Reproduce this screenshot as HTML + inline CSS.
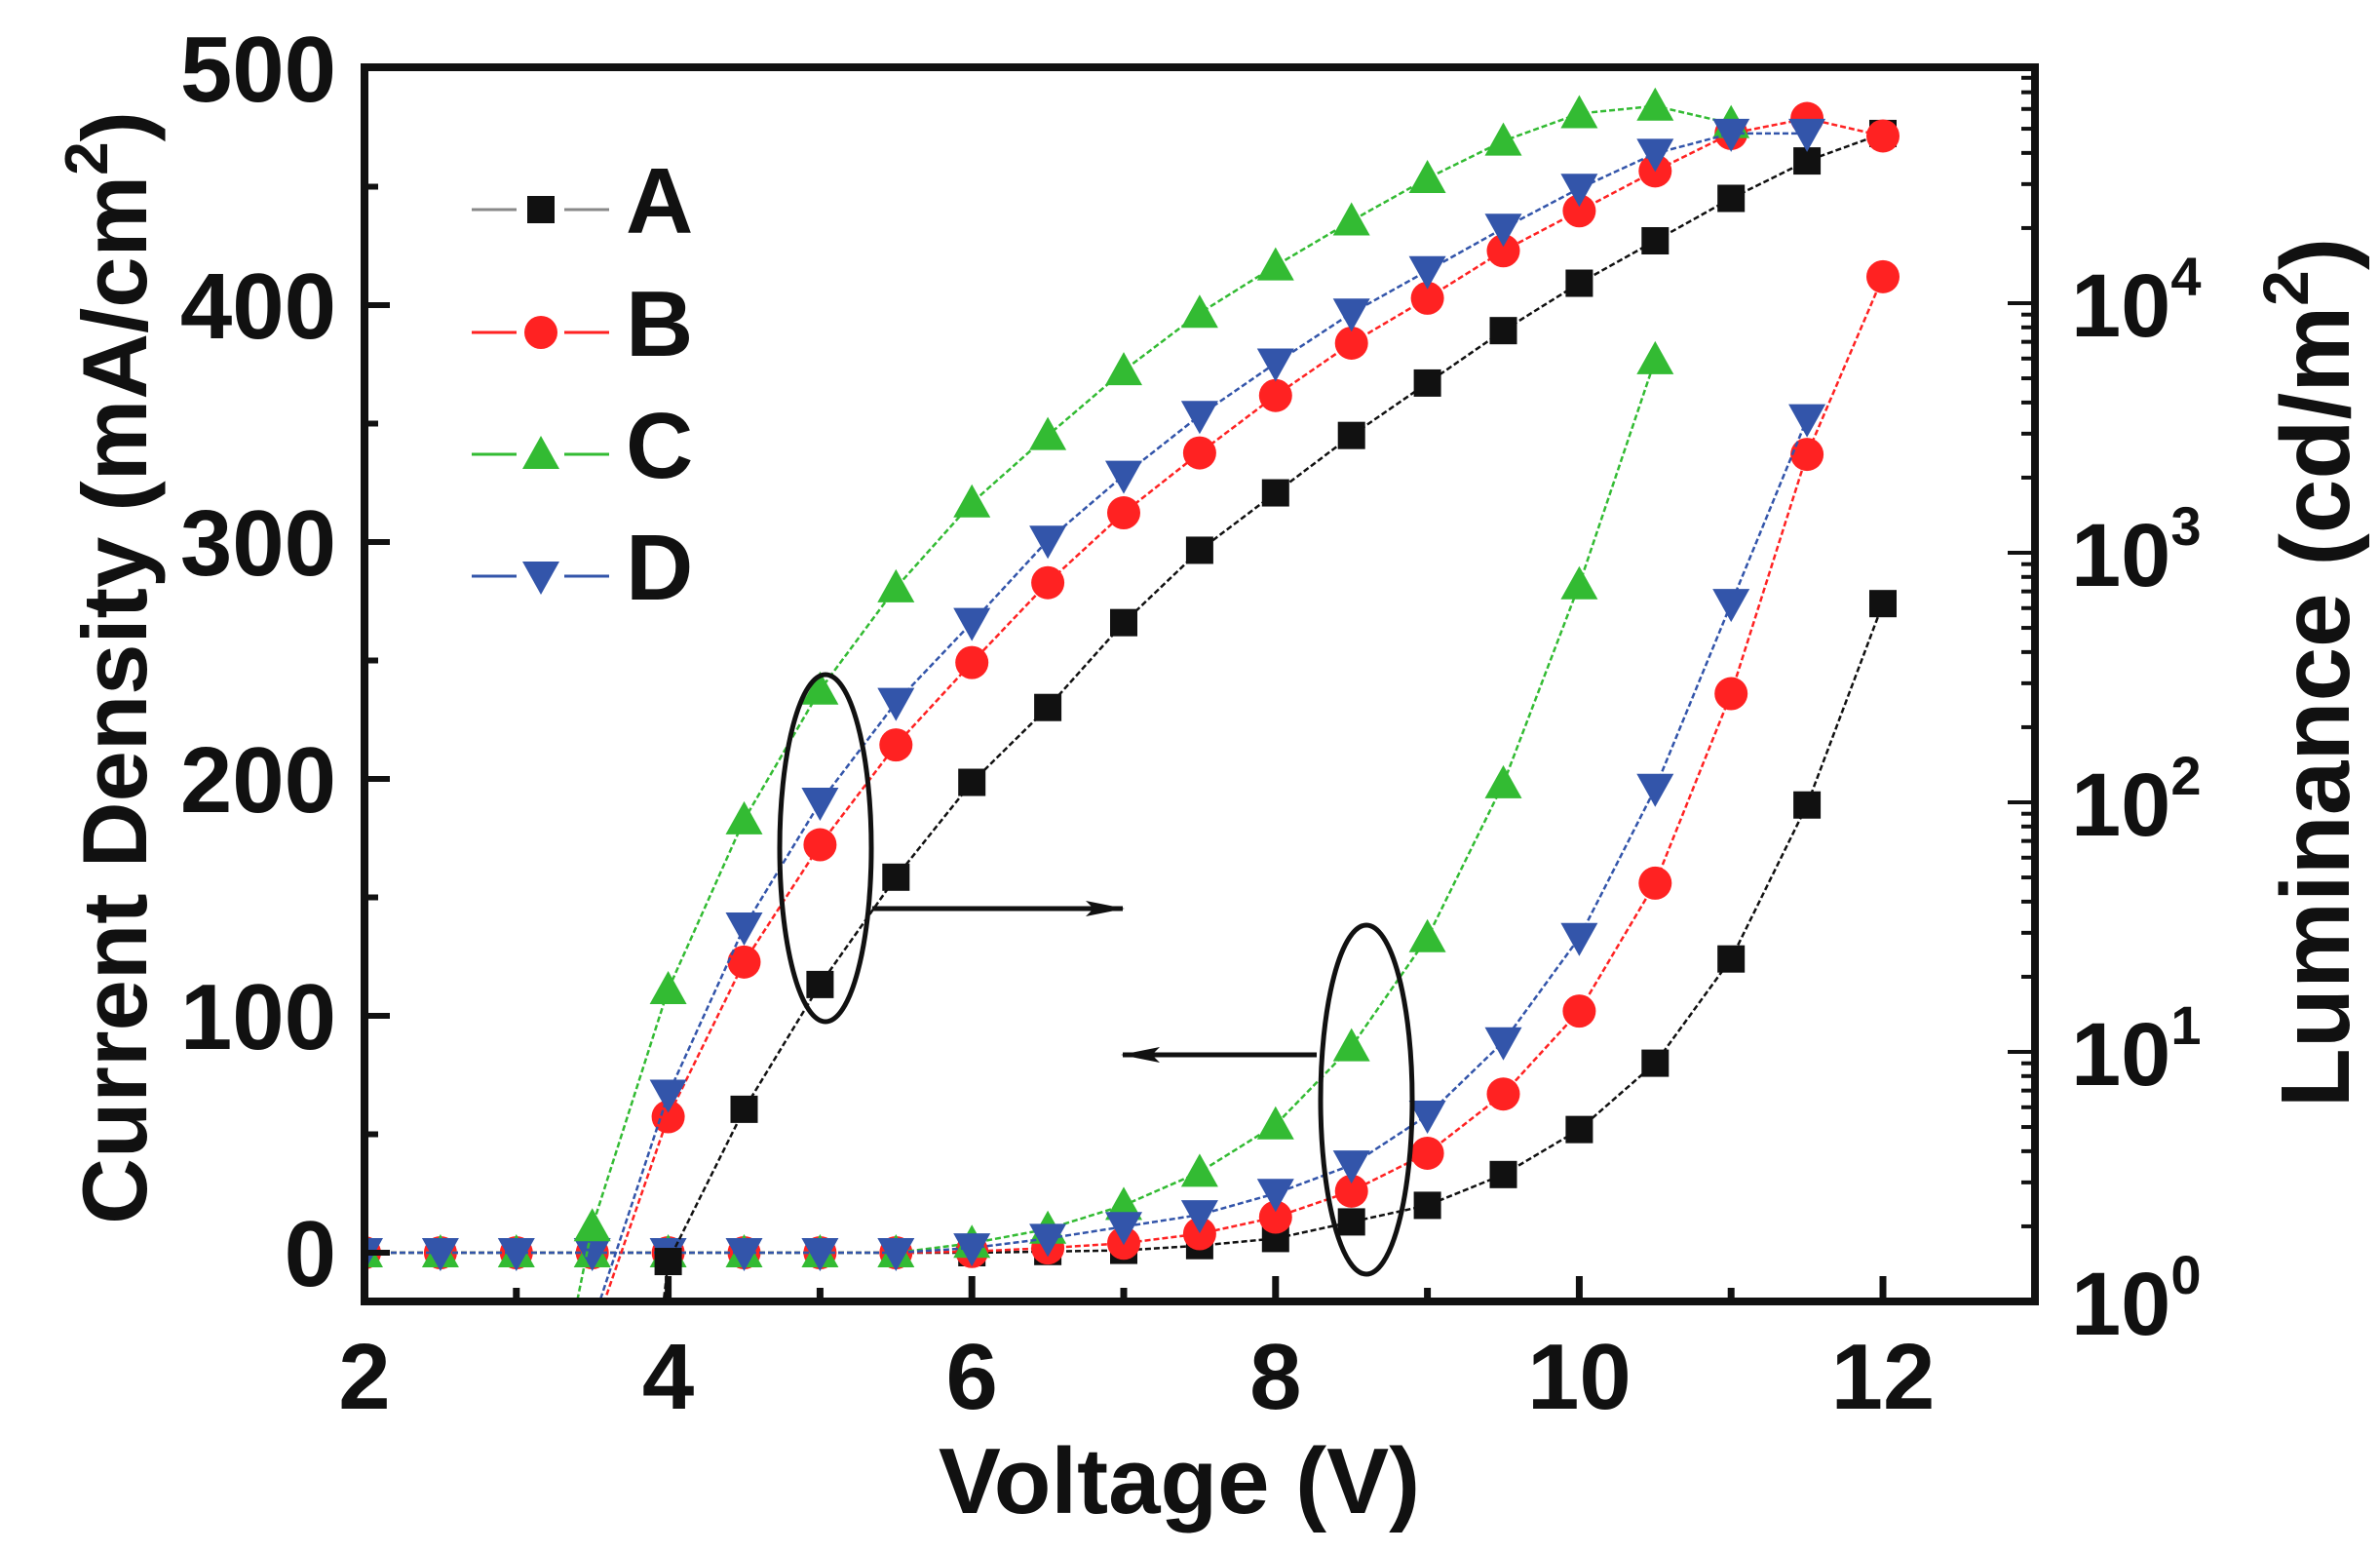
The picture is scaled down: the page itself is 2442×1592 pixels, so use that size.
<!DOCTYPE html>
<html><head><meta charset="utf-8"><style>
html,body{margin:0;padding:0;background:#fff;overflow:hidden;width:2442px;height:1592px;}
svg{display:block;}
text{font-family:"Liberation Sans",Arial,sans-serif;font-weight:bold;fill:#111;}
</style></head><body>
<svg id="chart" width="2442" height="1592" viewBox="0 0 2442 1592" xmlns="http://www.w3.org/2000/svg">
<defs><clipPath id="plotclip"><rect x="374" y="69" width="1714" height="1266"/></clipPath>
<marker id="ah" markerWidth="40" markerHeight="20" refX="38" refY="10" orient="auto" markerUnits="userSpaceOnUse"><path d="M0,2 L40,10 L0,18 L8,10 Z" fill="#111"/></marker>
</defs>
<g id="series" clip-path="url(#plotclip)"></g>
<g id="axes"></g>
</svg>
<script>
const voltages = [2,2.5,3,3.5,4,4.5,5,5.5,6,6.5,7,7.5,8,8.5,9,9.5,10,10.5,11,11.5,12];
// Current density (mA/cm2), left axis
const curA = [0,0,0,0,0,0,0,0,0,0.5,1,3,6,13,20,33,52,80,124,189,274];
const curB = [0,0,0,0,0,0,0,0,0.5,2,4,8,15,26,42,67,102,156,236,337,412];
const curC = [0,0,0,0,0,0,0,0,4,10,20,34,54,87,133,198,282,377];
const curD = [0,0,0,0,0,0,0,0,2,6,11,16,25,37,58,89,133,196,274,352];
// Luminance log10(cd/m2), right axis
const lumVA = [3.5,4,4.5,5,5.5,6,6.5,7,7.5,8,8.5,9,9.5,10,10.5,11,11.5,12];
const lumA = [-2.5,0.16,0.77,1.27,1.70,2.08,2.38,2.72,3.01,3.24,3.47,3.68,3.89,4.08,4.25,4.42,4.57,4.68];
const lumVB = [3.5,4,4.5,5,5.5,6,6.5,7,7.5,8,8.5,9,9.5,10,10.5,11,11.5,12];
const lumB = [-0.14,0.74,1.36,1.83,2.23,2.56,2.88,3.16,3.40,3.63,3.84,4.02,4.21,4.37,4.53,4.68,4.74,4.67];
const lumVC = [3,3.5,4,4.5,5,5.5,6,6.5,7,7.5,8,8.5,9,9.5,10,10.5,11];
const lumC = [-1.2,0.30,1.25,1.93,2.45,2.86,3.20,3.47,3.73,3.96,4.15,4.33,4.50,4.65,4.76,4.79,4.72];
const lumVD = [3.5,4,4.5,5,5.5,6,6.5,7,7.5,8,8.5,9,9.5,10,10.5,11,11.5];
const lumD = [-0.09,0.83,1.50,2.00,2.40,2.72,3.05,3.31,3.55,3.76,3.96,4.13,4.30,4.46,4.60,4.68,4.68];
const xTicks = [2,4,6,8,10,12];
const yTicks = [0,100,200,300,400,500];
const decades = [0,1,2,3,4];

const NS='http://www.w3.org/2000/svg';
const L=374,R=2088,T=69,B=1335;
const X=v=>374+(v-2)*155.8;
const Y=v=>1285-v*2.43;
const YL=l=>1335-l*256;
function mk(tag,attrs,parent){const e=document.createElementNS(NS,tag);for(const k in attrs)e.setAttribute(k,attrs[k]);parent.appendChild(e);return e;}
const S=document.getElementById('series'), A=document.getElementById('axes');
const colors={A:'#111',B:'#f22',C:'#3b3',D:'#35a'};
function marker(kind,cx,cy,g,col){
  if(kind==='A')return mk('rect',{x:cx-14,y:cy-14,width:28,height:28,fill:col},g);
  if(kind==='B')return mk('circle',{cx:cx,cy:cy,r:17,fill:col},g);
  if(kind==='C')return mk('path',{d:`M${cx},${cy-19} L${cx+19},${cy+15} L${cx-19},${cy+15} Z`,fill:col},g);
  return mk('path',{d:`M${cx-19},${cy-15} L${cx+19},${cy-15} L${cx},${cy+19} Z`,fill:col},g);
}
function series(kind,xs,ys,yf,name){
  const g=mk('g',{},S);
  
  
  const pts=ys.map((v,i)=>X(xs[i])+','+yf(v)).join(' ');
  const pl=mk('polyline',{points:pts,fill:'none',stroke:colors[kind],'stroke-width':2.5,'stroke-dasharray':'6 3'},g);
  
  
  ys.forEach((v,i)=>{const m=marker(kind,X(xs[i]),yf(v),g,colors[kind]);
    
    });
}
series('A',voltages,curA,Y,'current-a');
series('B',voltages,curB,Y,'current-b');
series('C',voltages,curC,Y,'current-c');
series('D',voltages,curD,Y,'current-d');
series('A',lumVA,lumA,YL,'luminance-a');
series('B',lumVB,lumB,YL,'luminance-b');
series('C',lumVC,lumC,YL,'luminance-c');
series('D',lumVD,lumD,YL,'luminance-d');

const fr=mk('rect',{x:L,y:T,width:R-L,height:B-T,fill:'none',stroke:'#111','stroke-width':8},A);


for(let v=2;v<=13;v+=1){const major=v%2===0;mk('line',{x1:X(v),x2:X(v),y1:B,y2:B-(major?26:14),stroke:'#111','stroke-width':7},A);}
xTicks.forEach(v=>{const t=mk('text',{x:X(v),y:1445,'font-size':96,'text-anchor':'middle'},A);t.textContent=v;
  
  });
for(let v=0;v<=500;v+=50){const major=v%100===0;mk('line',{x1:L,x2:L+(major?26:14),y1:Y(v),y2:Y(v),stroke:'#111','stroke-width':6},A);}
yTicks.forEach(v=>{const t=mk('text',{x:345,y:Y(v)+34,'font-size':96,'text-anchor':'end'},A);t.textContent=v;
  
  });
for(let d=0;d<5;d++){for(let m=1;m<10;m++){const yy=YL(d+Math.log10(m));if(yy<T)continue;mk('line',{x1:R,x2:R-(m===1?28:14),y1:yy,y2:yy,stroke:'#111','stroke-width':4},A);}}
decades.forEach(d=>{const t=mk('text',{x:2125,y:YL(d)+34,'font-size':92},A);t.textContent='10';
  const s=mk('tspan',{dy:-42,'font-size':56},t);s.textContent=d;
  
  });
let t=mk('text',{x:1210,y:1552,'font-size':96,'text-anchor':'middle'},A);t.textContent='Voltage (V)';

t=mk('text',{x:0,y:0,'font-size':94,'text-anchor':'middle',transform:'translate(150,685) rotate(-90)'},A);
t.innerHTML='Current Density (mA/cm<tspan dy="-40" font-size="62">2</tspan><tspan dy="40">)</tspan>';

t=mk('text',{x:0,y:0,'font-size':100,'text-anchor':'middle',transform:'translate(2410,690) rotate(-90)'},A);
t.innerHTML='Luminance (cd/m<tspan dy="-42" font-size="66">2</tspan><tspan dy="42">)</tspan>';

const legRows=[['A',215],['B',341],['C',466],['D',591]];
legRows.forEach(([k,yy])=>{const g=mk('g',{},A);
  
  
  mk('line',{x1:484,x2:530,y1:yy,y2:yy,stroke:k==='A'?'#888':colors[k],'stroke-width':3},g);
  mk('line',{x1:579,x2:625,y1:yy,y2:yy,stroke:k==='A'?'#888':colors[k],'stroke-width':3},g);
  marker(k,555,yy,g,colors[k]);
  const tt=mk('text',{x:642,y:yy+24,'font-size':96},g);tt.textContent=k;});
let e=mk('ellipse',{cx:847,cy:870,rx:47,ry:178,fill:'none',stroke:'#111','stroke-width':5},A);

e=mk('line',{x1:895,y1:932,x2:1152,y2:932,stroke:'#111','stroke-width':5,'marker-end':'url(#ah)'},A);

e=mk('ellipse',{cx:1402,cy:1128,rx:47,ry:179,fill:'none',stroke:'#111','stroke-width':5},A);

e=mk('line',{x1:1351,y1:1082,x2:1152,y2:1082,stroke:'#111','stroke-width':5,'marker-end':'url(#ah)'},A);

</script>
</body></html>
